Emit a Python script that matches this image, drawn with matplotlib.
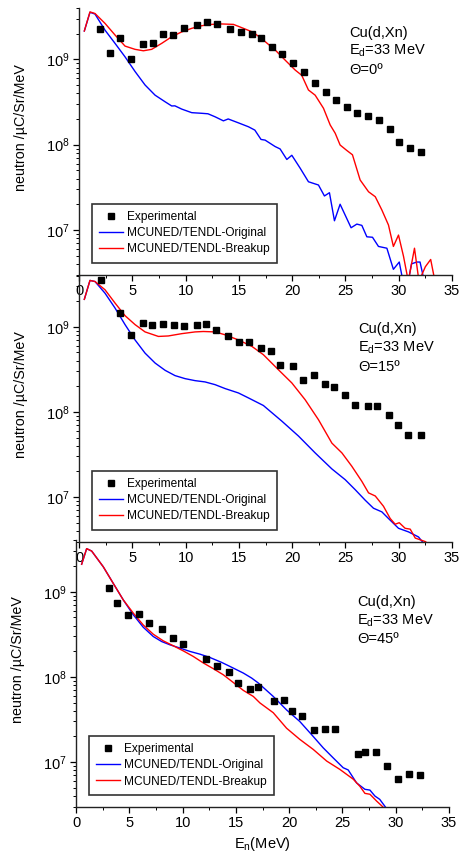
import numpy as np
import matplotlib
matplotlib.use("Agg")
from matplotlib import pyplot as plt
from matplotlib.ticker import LogLocator, MultipleLocator

plt.rcParams['font.family'] = ['Liberation Sans', 'DejaVu Sans']
plt.rcParams['mathtext.default'] = 'regular'

# ---- theta = 0 deg ----
exp_E_0 = [1.97, 2.9, 3.85, 4.85, 5.98, 6.98, 7.86, 8.86, 9.89, 11.08, 12.05, 12.99, 14.2, 15.18, 16.27, 17.08,
           18.09, 19.03, 20.06, 21.15, 22.1, 23.16, 24.13, 25.16, 26.1, 27.1, 28.17, 29.2, 29.99, 31.08, 32.1]
exp_y_0 = [2.26e9, 1.19e9, 1.76e9, 1.0e9, 1.5e9, 1.56e9, 1.96e9, 1.92e9, 2.35e9, 2.54e9, 2.71e9, 2.59e9, 2.24e9,
           2.1e9, 2.0e9, 1.78e9, 1.38e9, 1.16e9, 9.06e8, 7.2e8, 5.28e8, 4.18e8, 3.34e8, 2.79e8, 2.34e8, 2.17e8,
           1.94e8, 1.54e8, 1.06e8, 9.2e7, 8.2e7]
orig_E_0 = [0.5, 1.03, 1.5, 2.44, 3.38, 4.32, 5.26, 6.2, 7.14, 8.08, 8.7, 9.0, 9.64, 10.58, 11.52, 12.1, 12.77,
            13.55, 14.0, 14.96, 15.9, 16.5, 17.08, 17.46, 18.4, 18.87, 19.5, 19.97, 20.75, 21.53, 22.47, 23.03,
            23.5, 23.97, 24.5, 25.53, 26.07, 26.54, 27.01, 27.54, 28.1, 28.89, 29.5, 30.05, 30.4, 30.9, 31.2,
            31.7, 32.0, 32.4]
orig_y_0 = [2.15e9, 3.56e9, 3.4e9, 2.2e9, 1.54e9, 1.07e9, 7.2e8, 5.0e8, 3.8e8, 3.18e8, 2.84e8, 2.85e8, 2.61e8,
            2.37e8, 2.33e8, 2.3e8, 2.12e8, 1.9e8, 2.0e8, 1.8e8, 1.62e8, 1.48e8, 1.15e8, 1.13e8, 9.5e7, 8.9e7,
            6.7e7, 7.5e7, 5.3e7, 3.67e7, 3.36e7, 2.5e7, 2.73e7, 1.28e7, 2.0e7, 1.06e7, 1.17e7, 1.13e7, 8.3e6,
            8.2e6, 6.4e6, 6.1e6, 3.45e6, 4.2e6, 2.5e6, 2.5e6, 4.0e6, 4.2e6, 4.2e6, 2.5e6]
brk_E_0 = [0.5, 1.03, 1.5, 2.44, 3.38, 4.32, 5.26, 6.04, 6.82, 7.76, 8.7, 9.64, 10.58, 11.52, 12.46, 13.4, 14.49,
           15.43, 16.37, 17.3, 18.4, 19.34, 20.28, 20.9, 21.53, 22.16, 22.94, 23.57, 24.04, 24.5, 25.1, 25.66,
           26.38, 27.17, 27.8, 28.42, 29.04, 29.5, 29.98, 30.45, 30.9, 31.48, 31.9, 32.5, 33.0, 33.4]
brk_y_0 = [2.15e9, 3.6e9, 3.45e9, 2.64e9, 1.93e9, 1.43e9, 1.31e9, 1.26e9, 1.31e9, 1.54e9, 1.84e9, 2.1e9, 2.31e9,
           2.48e9, 2.57e9, 2.6e9, 2.57e9, 2.31e9, 2.07e9, 1.68e9, 1.29e9, 9.8e8, 7.5e8, 6.5e8, 4.37e8, 3.8e8,
           2.67e8, 1.7e8, 1.36e8, 9.9e7, 8.6e7, 7.6e7, 3.85e7, 2.8e7, 2.45e7, 1.71e7, 1.14e7, 6.4e6, 8.7e6,
           4.9e6, 2.5e6, 6.1e6, 2.5e6, 3.7e6, 4.5e6, 2.5e6]

# ---- theta = 15 deg ----
exp_E_15 = [2.03, 3.85, 4.85, 5.98, 6.82, 7.86, 8.92, 9.89, 11.05, 11.92, 12.86, 13.96, 15.02, 15.99, 17.09,
            18.03, 18.9, 20.1, 21.06, 22.07, 23.13, 23.97, 24.94, 25.94, 27.1, 27.95, 29.08, 29.92, 30.83, 32.05]
exp_y_15 = [3.56e9, 1.47e9, 8.06e8, 1.1e9, 1.05e9, 1.08e9, 1.05e9, 1.03e9, 1.05e9, 1.07e9, 9.2e8, 7.8e8, 6.6e8,
            6.6e8, 5.7e8, 5.2e8, 3.6e8, 3.5e8, 2.35e8, 2.7e8, 2.15e8, 1.96e8, 1.57e8, 1.22e8, 1.18e8, 1.16e8,
            9.3e7, 7.0e7, 5.3e7, 5.3e7]
orig_E_15 = [0.5, 1.03, 1.5, 2.44, 3.38, 4.32, 5.26, 6.2, 7.14, 8.08, 9.01, 9.95, 10.89, 11.83, 12.77, 13.71,
             14.96, 15.9, 17.3, 19.03, 20.6, 22.16, 23.73, 24.98, 25.92, 26.85, 27.63, 28.42, 29.04, 29.98,
             30.92, 31.86, 32.4]
orig_y_15 = [2.1e9, 3.5e9, 3.4e9, 2.48e9, 1.66e9, 1.06e9, 7.0e8, 4.9e8, 3.75e8, 3.08e8, 2.67e8, 2.46e8, 2.33e8,
             2.25e8, 2.09e8, 1.88e8, 1.67e8, 1.46e8, 1.19e8, 7.8e7, 5.2e7, 3.3e7, 2.14e7, 1.6e7, 1.22e7, 9.2e6,
             7.4e6, 6.7e6, 5.6e6, 4.3e6, 3.9e6, 3.4e6, 2.8e6]
brk_E_15 = [0.5, 1.03, 1.5, 2.44, 3.38, 4.32, 5.26, 6.2, 7.45, 8.38, 9.64, 10.89, 11.67, 12.77, 13.71, 14.96,
            16.21, 17.3, 18.71, 19.97, 21.22, 22.47, 23.73, 24.67, 25.6, 26.54, 27.17, 27.8, 28.57, 29.2, 29.67,
            30.05, 30.6, 31.08, 31.55, 32.5, 32.8]
brk_y_15 = [2.1e9, 3.5e9, 3.4e9, 2.72e9, 1.9e9, 1.35e9, 1.06e9, 8.7e8, 7.7e8, 7.8e8, 8.3e8, 8.7e8, 8.8e8, 8.7e8,
            8.05e8, 7.0e8, 5.9e8, 4.7e8, 3.13e8, 2.19e8, 1.39e8, 8.1e7, 4.3e7, 3.3e7, 2.3e7, 1.53e7, 1.12e7,
            1.03e7, 7.8e6, 5.6e6, 4.8e6, 5.0e6, 4.3e6, 4.2e6, 3.3e6, 3.0e6, 2.8e6]

# ---- theta = 45 deg ----
exp_E_45 = [3.1, 3.88, 4.9, 5.91, 6.85, 8.04, 9.13, 10.0, 12.2, 13.2, 14.38, 15.23, 16.32, 17.1, 18.57, 19.54,
            20.26, 21.2, 22.33, 23.33, 24.33, 26.45, 27.14, 28.17, 29.17, 30.18, 31.24, 32.27]
exp_y_45 = [1.11e9, 7.3e8, 5.3e8, 5.5e8, 4.27e8, 3.66e8, 2.85e8, 2.43e8, 1.62e8, 1.35e8, 1.14e8, 8.6e7, 7.2e7,
            7.7e7, 5.2e7, 5.3e7, 4.0e7, 3.5e7, 2.39e7, 2.45e7, 2.45e7, 1.23e7, 1.33e7, 1.31e7, 9.1e6, 6.3e6,
            7.2e6, 7.0e6]
orig_E_45 = [0.53, 1.0, 1.47, 2.56, 3.5, 4.44, 5.38, 6.31, 7.25, 8.04, 8.82, 9.76, 10.7, 11.63, 12.57, 13.67,
             14.76, 15.7, 16.48, 17.1, 18.51, 19.76, 21.0, 22.26, 23.2, 24.14, 25.07, 25.54, 26.33, 27.11, 27.58,
             28.05, 28.5, 29.1]
orig_y_45 = [2.1e9, 3.2e9, 3.0e9, 1.96e9, 1.25e9, 8.0e8, 5.35e8, 3.83e8, 2.98e8, 2.6e8, 2.38e8, 2.18e8, 1.99e8,
             1.85e8, 1.69e8, 1.48e8, 1.27e8, 1.11e8, 9.7e7, 8.5e7, 5.9e7, 4.1e7, 3.0e7, 2.0e7, 1.47e7, 1.12e7,
             8.6e6, 8.1e6, 5.7e6, 4.8e6, 4.7e6, 4.0e6, 3.66e6, 2.9e6]
brk_E_45 = [0.53, 1.0, 1.47, 2.56, 3.5, 4.44, 5.38, 6.31, 7.25, 8.19, 9.13, 10.07, 11.0, 11.94, 12.88, 13.82,
            14.76, 15.7, 16.64, 17.26, 18.51, 19.76, 21.0, 22.26, 23.52, 24.77, 26.02, 26.64, 27.11, 27.58,
            28.2, 28.9]
brk_y_45 = [2.1e9, 3.2e9, 3.0e9, 1.96e9, 1.25e9, 8.0e8, 5.6e8, 4.07e8, 3.17e8, 2.65e8, 2.32e8, 2.02e8, 1.74e8,
            1.46e8, 1.25e8, 1.06e8, 8.6e7, 6.95e7, 5.9e7, 4.95e7, 3.8e7, 2.5e7, 1.85e7, 1.41e7, 1.03e7, 8.2e6,
            6.3e6, 5.2e6, 4.3e6, 4.2e6, 3.5e6, 2.9e6]

angles = ['0', '15', '45']
panels = [(exp_E_0, exp_y_0, orig_E_0, orig_y_0, brk_E_0, brk_y_0),
          (exp_E_15, exp_y_15, orig_E_15, orig_y_15, brk_E_15, brk_y_15),
          (exp_E_45, exp_y_45, orig_E_45, orig_y_45, brk_E_45, brk_y_45)]

W, H = 461, 859
fig = plt.figure(figsize=(W / 100, H / 100), dpi=100)

# axes boxes in pixels: left, top, right, bottom
boxes = [(79, 8, 452, 274.5), (79, 275.5, 452, 541.6), (76, 540.4, 449, 806.7)]
txt_y = [0.908, 0.798, 0.769]
txt_x = [0.724, 0.748, 0.753]

for i in range(3):
    l, t, r, b = boxes[i]
    ax = fig.add_axes([l / W, 1 - b / H, (r - l) / W, (b - t) / H])
    ax.patch.set_alpha(0)
    eE, ey, oE, oy, bE, by = panels[i]
    ax.plot(eE, ey, 's', color='black', ms=4.6, label='Experimental', zorder=3)
    ax.plot(oE, oy, '-', color='#0000ff', lw=1.0, label='MCUNED/TENDL-Original')
    ax.plot(bE, by, '-', color='#ff0000', lw=1.0, label='MCUNED/TENDL-Breakup')
    ax.set_yscale('log')
    ax.set_xlim(0, 35)
    ax.set_ylim(3e6, 4e9)
    ax.spines['top'].set_visible(False)
    ax.spines['right'].set_visible(False)
    for s in ['left', 'bottom']:
        ax.spines[s].set_linewidth(1.0)
        ax.spines[s].set_color('#222222')
    ax.xaxis.set_major_locator(MultipleLocator(5))
    ax.xaxis.set_minor_locator(MultipleLocator(2.5))
    ax.yaxis.set_minor_locator(LogLocator(base=10, subs=np.arange(2, 10)))
    ax.tick_params(which='major', direction='out', length=4.5, width=0.9, labelsize=10.5, pad=2)
    ax.tick_params(which='minor', direction='out', length=2.5, width=0.7)
    ax.tick_params(axis='y', which='minor', labelleft=False)
    ax.set_ylabel('neutron /\u00b5C/Sr/MeV', fontsize=10.3)
    ax.yaxis.set_label_coords(-0.138, 0.553)

    leg = ax.legend(loc='lower left', bbox_to_anchor=(0.034, 0.045), borderaxespad=0, fontsize=8.6,
                    frameon=True, fancybox=False, handlelength=2.0, handletextpad=0.35,
                    labelspacing=0.35, borderpad=0.6, numpoints=1)
    leg.get_frame().set_edgecolor('black')
    leg.get_frame().set_linewidth(1.2)

    ax.text(txt_x[i], txt_y[i], 'Cu(d,Xn)', transform=ax.transAxes, fontsize=10.5, va='center')
    ax.text(txt_x[i], txt_y[i] - 0.07, '$E_d$=33 MeV', transform=ax.transAxes, fontsize=10.5, va='center')
    ax.text(txt_x[i], txt_y[i] - 0.14, '\u0398=' + angles[i] + '\u00ba', transform=ax.transAxes,
            fontsize=10.5, va='center')

    if i == 2:
        ax.set_xlabel('$E_n$(MeV)', fontsize=10.5, labelpad=4)

fig.savefig('out.png', dpi=100)
